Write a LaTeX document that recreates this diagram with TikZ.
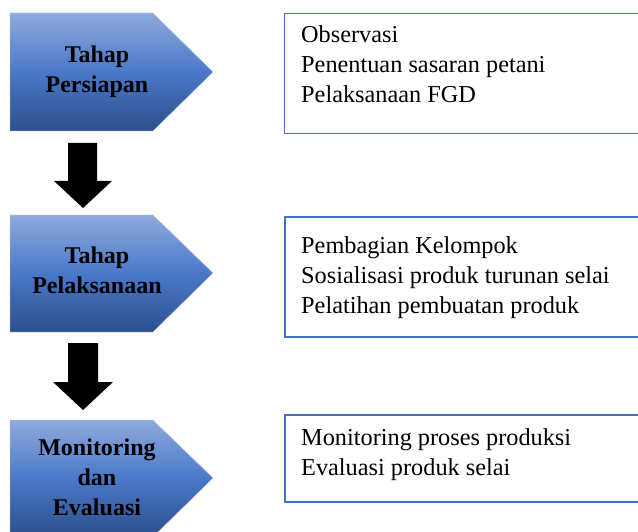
\documentclass[tikz,border=0pt]{standalone}
\usepackage{fontspec}
\setmainfont{Liberation Serif}
\definecolor{gtop}{HTML}{8FAADC}
\definecolor{gmid}{HTML}{4A78C9}
\definecolor{gbot}{HTML}{2D4F8C}
\definecolor{boxblue}{HTML}{4472C4}
\begin{document}
\begin{tikzpicture}[x=1pt,y=-1pt,
  stage/.style={top color=gtop, bottom color=gbot, middle color=gmid, draw=gtop!60, line width=0.4pt},
  stagetext/.style={font=\fontsize{24}{30}\selectfont\bfseries, align=center, anchor=base, inner sep=0pt},
  listtext/.style={font=\fontsize{24.3}{30}\selectfont, align=left, anchor=base west, inner sep=0pt},
  boxline/.style={draw=boxblue, line width=1.3pt},
  downarrow/.style={fill=black}]
\useasboundingbox (0,0) rectangle (638,532);
% stages
\shade[stage] (10,13) -- (153,13) -- (213,72) -- (153,131) -- (10,131) -- cycle;
\shade[stage] (10,215) -- (153,215) -- (213,273) -- (153,332) -- (10,332) -- cycle;
\shade[stage] (10,420) -- (153,420) -- (213,478) -- (153,537) -- (10,537) -- cycle;
\node[stagetext] (s1) at (97,93) {Tahap\\Persiapan};
\node[stagetext] (s2) at (97,293) {Tahap\\Pelaksanaan};
\node[stagetext] (s3) at (97,515) {Monitoring\\dan\\Evaluasi};
% arrows
\fill[downarrow] (68,143) -- (97,143) -- (97,181) -- (112,181) -- (83,208) -- (54,181) -- (68,181) -- cycle;
\fill[downarrow] (68,343) -- (98,343) -- (98,382) -- (113,382) -- (83,410) -- (53,382) -- (68,382) -- cycle;
% boxes
\draw[boxline] (640,13.5) -- (284.5,13.5) -- (284.5,133.5) -- (640,133.5);
\draw[boxline] (640,217) -- (285,217) -- (285,337) -- (640,337);
\draw[boxline] (640,415) -- (285,415) -- (285,502) -- (640,502);
\node[listtext] (b1) at (301,103) {Observasi\\Penentuan sasaran petani\\Pelaksanaan FGD};
\node[listtext] (b2) at (301,313) {Pembagian Kelompok\\Sosialisasi produk turunan selai\\Pelatihan pembuatan produk};
\node[listtext] (b3) at (301,475) {Monitoring proses produksi\\Evaluasi produk selai};
\end{tikzpicture}
\end{document}
